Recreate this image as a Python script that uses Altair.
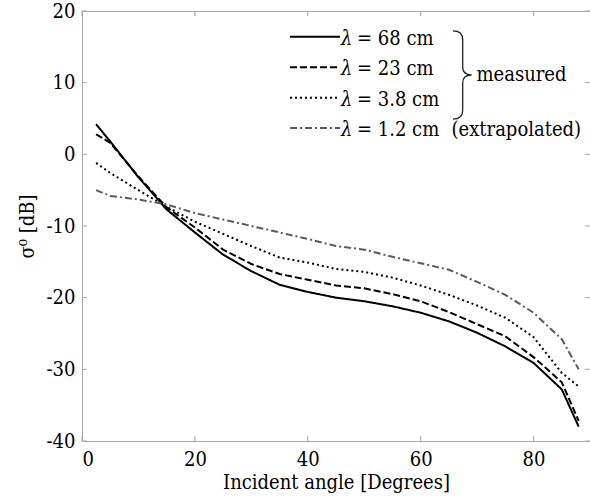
import altair as alt
import pandas as pd

# Backscatter coefficient vs incident angle for four radar wavelengths
angles = [2.5, 5, 10, 15, 20, 25, 30, 35, 40, 45, 50, 55, 60, 65, 70, 75, 80, 85, 88]
sigma_68cm = [4.2, 1.8, -3.2, -7.7, -10.9, -14.0, -16.3, -18.2, -19.2, -20.0,
              -20.5, -21.2, -22.1, -23.3, -24.9, -26.8, -29.1, -32.8, -38.0]
sigma_23cm = [2.8, 1.6, -3.1, -7.4, -10.2, -13.3, -15.3, -16.7, -17.5, -18.3,
              -18.7, -19.5, -20.5, -22.0, -23.7, -25.4, -28.3, -31.8, -37.2]
sigma_3_8cm = [-1.2, -2.6, -5.0, -7.3, -9.4, -11.1, -12.8, -14.4, -15.1, -16.0,
               -16.4, -17.2, -18.3, -19.6, -21.1, -22.8, -25.5, -30.5, -32.4]
sigma_1_2cm = [-5.0, -5.8, -6.3, -7.0, -8.2, -9.1, -10.0, -10.9, -11.8, -12.8,
               -13.3, -14.3, -15.2, -16.1, -17.8, -19.6, -22.1, -25.8, -30.0]

series = ["68 cm", "23 cm", "3.8 cm", "1.2 cm"]
legend_text = ["= 68 cm", "= 23 cm", "= 3.8 cm", "= 1.2 cm"]
x_ticks = [0, 20, 40, 60, 80]
y_ticks = [-40, -30, -20, -10, 0, 10, 20]

# styling
W, H = 508, 430
FONT = "DejaVu Serif Condensed, DejaVu Serif"
FS = 20
AXIS_GRAY = "#a6a6a6"
dashes = [[1, 0], [7, 3], [2, 3], [7, 3, 2, 3]]
colors = ["#000000", "#000000", "#000000", "#5a5a5a"]

rows = []
for name, vals in zip(series, [sigma_68cm, sigma_23cm, sigma_3_8cm, sigma_1_2cm]):
    for a, v in zip(angles, vals):
        rows.append({"series": name, "angle": a, "sigma": v})
df = pd.DataFrame(rows)

xs = alt.Scale(domain=[0, 90], nice=False)
ys = alt.Scale(domain=[-40, 20], nice=False)

# plain hyphen for negative tick labels
hyphen_labels = "datum.value < 0 ? '-' + abs(datum.value) : '' + datum.value"

lines = alt.Chart(df).mark_line(strokeWidth=2).encode(
    x=alt.X("angle:Q", scale=xs,
            axis=alt.Axis(values=x_ticks, title="Incident angle [Degrees]",
                          labelPadding=8, titlePadding=3)),
    y=alt.Y("sigma:Q", scale=ys,
            axis=alt.Axis(values=y_ticks, title="σ⁰ [dB]", labelExpr=hyphen_labels,
                          labelPadding=7, titlePadding=9)),
    detail="series:N",
    color=alt.Color("series:N", scale=alt.Scale(domain=series, range=colors), legend=None),
    strokeDash=alt.StrokeDash("series:N", scale=alt.Scale(domain=series, range=dashes), legend=None),
)

# inward tick marks on all four sides of the frame
xt = pd.DataFrame({"t": x_ticks})
yt = pd.DataFrame({"t": y_ticks})
tick_len = 5
ticks = [
    alt.Chart(xt).mark_rule(color=AXIS_GRAY).encode(
        x=alt.X("t:Q", scale=xs), y=alt.value(H), y2=alt.value(H - tick_len)),
    alt.Chart(xt).mark_rule(color=AXIS_GRAY).encode(
        x=alt.X("t:Q", scale=xs), y=alt.value(0), y2=alt.value(tick_len)),
    alt.Chart(yt).mark_rule(color=AXIS_GRAY).encode(
        y=alt.Y("t:Q", scale=ys), x=alt.value(0), x2=alt.value(tick_len)),
    alt.Chart(yt).mark_rule(color=AXIS_GRAY).encode(
        y=alt.Y("t:Q", scale=ys), x=alt.value(W), x2=alt.value(W - tick_len)),
]

# hand-built legend with a brace grouping the measured wavelengths
one = pd.DataFrame({"k": [0]})
legend_layers = []
row_y = [25.7, 56.2, 86.7, 117.0]
for i, name in enumerate(series):
    ly = row_y[i]
    legend_layers.append(
        alt.Chart(one).mark_rule(strokeWidth=2, color=colors[i], strokeDash=dashes[i]).encode(
            x=alt.value(208), x2=alt.value(258), y=alt.value(ly)))
    legend_layers.append(
        alt.Chart(pd.DataFrame({"t": ["λ"]})).mark_text(
            font=FONT, fontSize=FS, fontStyle="italic", align="left",
            baseline="alphabetic", color="black").encode(
            text="t:N", x=alt.value(259), y=alt.value(ly + 8)))
    legend_layers.append(
        alt.Chart(pd.DataFrame({"t": [legend_text[i]]})).mark_text(
            font=FONT, fontSize=FS, align="left", baseline="alphabetic",
            color="black").encode(
            text="t:N", x=alt.value(275), y=alt.value(ly + 8)))

legend_layers.append(
    alt.Chart(pd.DataFrame({"t": ["(extrapolated)"]})).mark_text(
        font=FONT, fontSize=FS, align="left", baseline="alphabetic",
        color="black").encode(
        text="t:N", x=alt.value(369.5), y=alt.value(row_y[3] + 8)))
legend_layers.append(
    alt.Chart(pd.DataFrame({"t": ["measured"]})).mark_text(
        font=FONT, fontSize=FS, align="left", baseline="alphabetic",
        color="black").encode(
        text="t:N", x=alt.value(394.5), y=alt.value(69.5)))

brace_path = ("M -0.22 -1 Q 0 -1 0 -0.8 L 0 -0.18 Q 0 0 0.2 0 "
              "Q 0 0 0 0.18 L 0 0.8 Q 0 1 -0.22 1")
legend_layers.append(
    alt.Chart(one).mark_point(shape=brace_path, filled=False, opacity=1,
                              stroke="#222222", strokeWidth=1.3, size=88.3 ** 2).encode(
        x=alt.value(380.7), y=alt.value(64)))

chart = alt.layer(lines, *ticks, *legend_layers).properties(
    width=W, height=H,
    autosize=alt.AutoSizeParams(type="none"),
    padding={"left": 82, "top": 11, "right": 0, "bottom": 61},
).configure_view(
    stroke=AXIS_GRAY, strokeWidth=1
).configure_axis(
    grid=False, domain=False, ticks=False, tickSize=0,
    labelFont=FONT, labelFontSize=FS, labelColor="black",
    titleFont=FONT, titleFontSize=FS, titleFontWeight="normal", titleColor="black",
)

chart.save("out.html", embed_options={"renderer": "svg", "actions": False})
